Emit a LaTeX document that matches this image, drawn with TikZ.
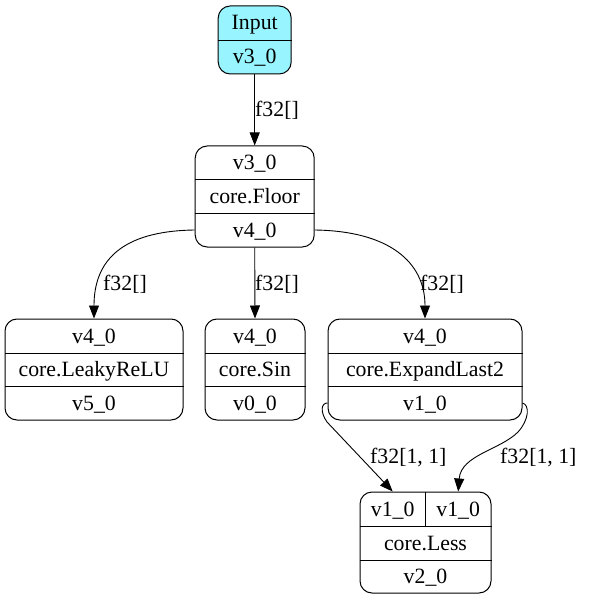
\documentclass[tikz,border=0pt]{standalone}
\usepackage{fontspec}
\setmainfont{Liberation Serif}
\usetikzlibrary{arrows.meta}
\definecolor{inputfill}{HTML}{98F5FF}
\begin{document}
\begin{tikzpicture}[x=1pt,y=-1pt,
  rec/.style={draw, rounded corners=12pt, line width=1pt, inner sep=0pt},
  div/.style={draw, line width=0.8pt},
  txt/.style={font=\fontsize{21.8}{26}\selectfont, inner sep=0pt, text height=15pt, text depth=1pt},
  lbl/.style={txt, anchor=west},
  edge/.style={draw, line width=0.9pt, -{Triangle[length=13pt,width=10pt]}}]
\useasboundingbox (0,0) rectangle (588,601);

% Input
\node[rec, fill=inputfill, minimum width=73pt, minimum height=68pt] (input) at (254.7,40) {};
\draw[div] (input.west |- 0,40) -- (input.east |- 0,40);
\node[txt] (in1) at (254.7,23) {Input};
\node[txt] (in2) at (254.7,57) {v3\_0};

% Floor
\node[rec, minimum width=119pt, minimum height=101pt] (floor) at (254.7,196.5) {};
\draw[div] (floor.west |- 0,179.5) -- (floor.east |- 0,179.5);
\draw[div] (floor.west |- 0,213) -- (floor.east |- 0,213);
\node[txt] (f1) at (254.7,162.7) {v3\_0};
\node[txt] (f2) at (254.7,196.3) {core.Floor};
\node[txt] (f3) at (254.7,230) {v4\_0};

% LeakyReLU
\node[rec, minimum width=178pt, minimum height=101pt] (lrelu) at (94,369.5) {};
\draw[div] (lrelu.west |- 0,353) -- (lrelu.east |- 0,353);
\draw[div] (lrelu.west |- 0,386) -- (lrelu.east |- 0,386);
\node[txt] (r1) at (94,336) {v4\_0};
\node[txt] (r2) at (94,369.5) {core.LeakyReLU};
\node[txt] (r3) at (94,403) {v5\_0};

% Sin
\node[rec, minimum width=100pt, minimum height=101pt] (sin) at (255,369.5) {};
\draw[div] (sin.west |- 0,353) -- (sin.east |- 0,353);
\draw[div] (sin.west |- 0,386) -- (sin.east |- 0,386);
\node[txt] (s1) at (255,336) {v4\_0};
\node[txt] (s2) at (255,369.5) {core.Sin};
\node[txt] (s3) at (255,403) {v0\_0};

% ExpandLast2
\node[rec, minimum width=194pt, minimum height=101pt] (expand) at (425,369.5) {};
\draw[div] (expand.west |- 0,353) -- (expand.east |- 0,353);
\draw[div] (expand.west |- 0,386) -- (expand.east |- 0,386);
\node[txt] (e1) at (425,336) {v4\_0};
\node[txt] (e2) at (425,369.5) {core.ExpandLast2};
\node[txt] (e3) at (425,403) {v1\_0};

% Less
\node[rec, minimum width=131pt, minimum height=101pt] (less) at (425.5,542.5) {};
\draw[div] (less.west |- 0,526) -- (less.east |- 0,526);
\draw[div] (less.west |- 0,560) -- (less.east |- 0,560);
\draw[div] (425.5,492) -- (425.5,526);
\node[txt] (lp) at (392.7,509) {v1\_0};
\node[txt] (rp) at (458.2,509) {v1\_0};
\node[txt] (l2) at (425.5,543) {core.Less};
\node[txt] (l3) at (425.5,576.5) {v2\_0};

% edges
\draw[edge] (input.south) -- (floor.north);
\node[lbl] (lab1) at (255,110) {f32[]};

\draw[edge] (floor.west |- f3) .. controls (120,231) and (94,262) .. (lrelu.north);
\node[lbl] (lab2) at (103,283) {f32[]};

\draw[edge] (floor.south) -- (sin.north);
\node[lbl] (lab3) at (255,283) {f32[]};

\draw[edge] (floor.east |- f3) .. controls (389,231) and (425,262) .. (expand.north);
\node[lbl] (lab4) at (420,283) {f32[]};

\draw[edge] (expand.west |- e3) .. controls (321,403) and (320,412) .. (327,422) -- (lp |- less.north);
\node[lbl] (lab5) at (370,456) {f32[1, 1]};

\draw[edge] (expand.east |- e3) .. controls (530,405) and (529,420) .. (518,432) .. controls (500,450) and (461,455) .. (rp |- less.north);
\node[lbl] (lab6) at (500,456) {f32[1, 1]};
\end{tikzpicture}
\end{document}
